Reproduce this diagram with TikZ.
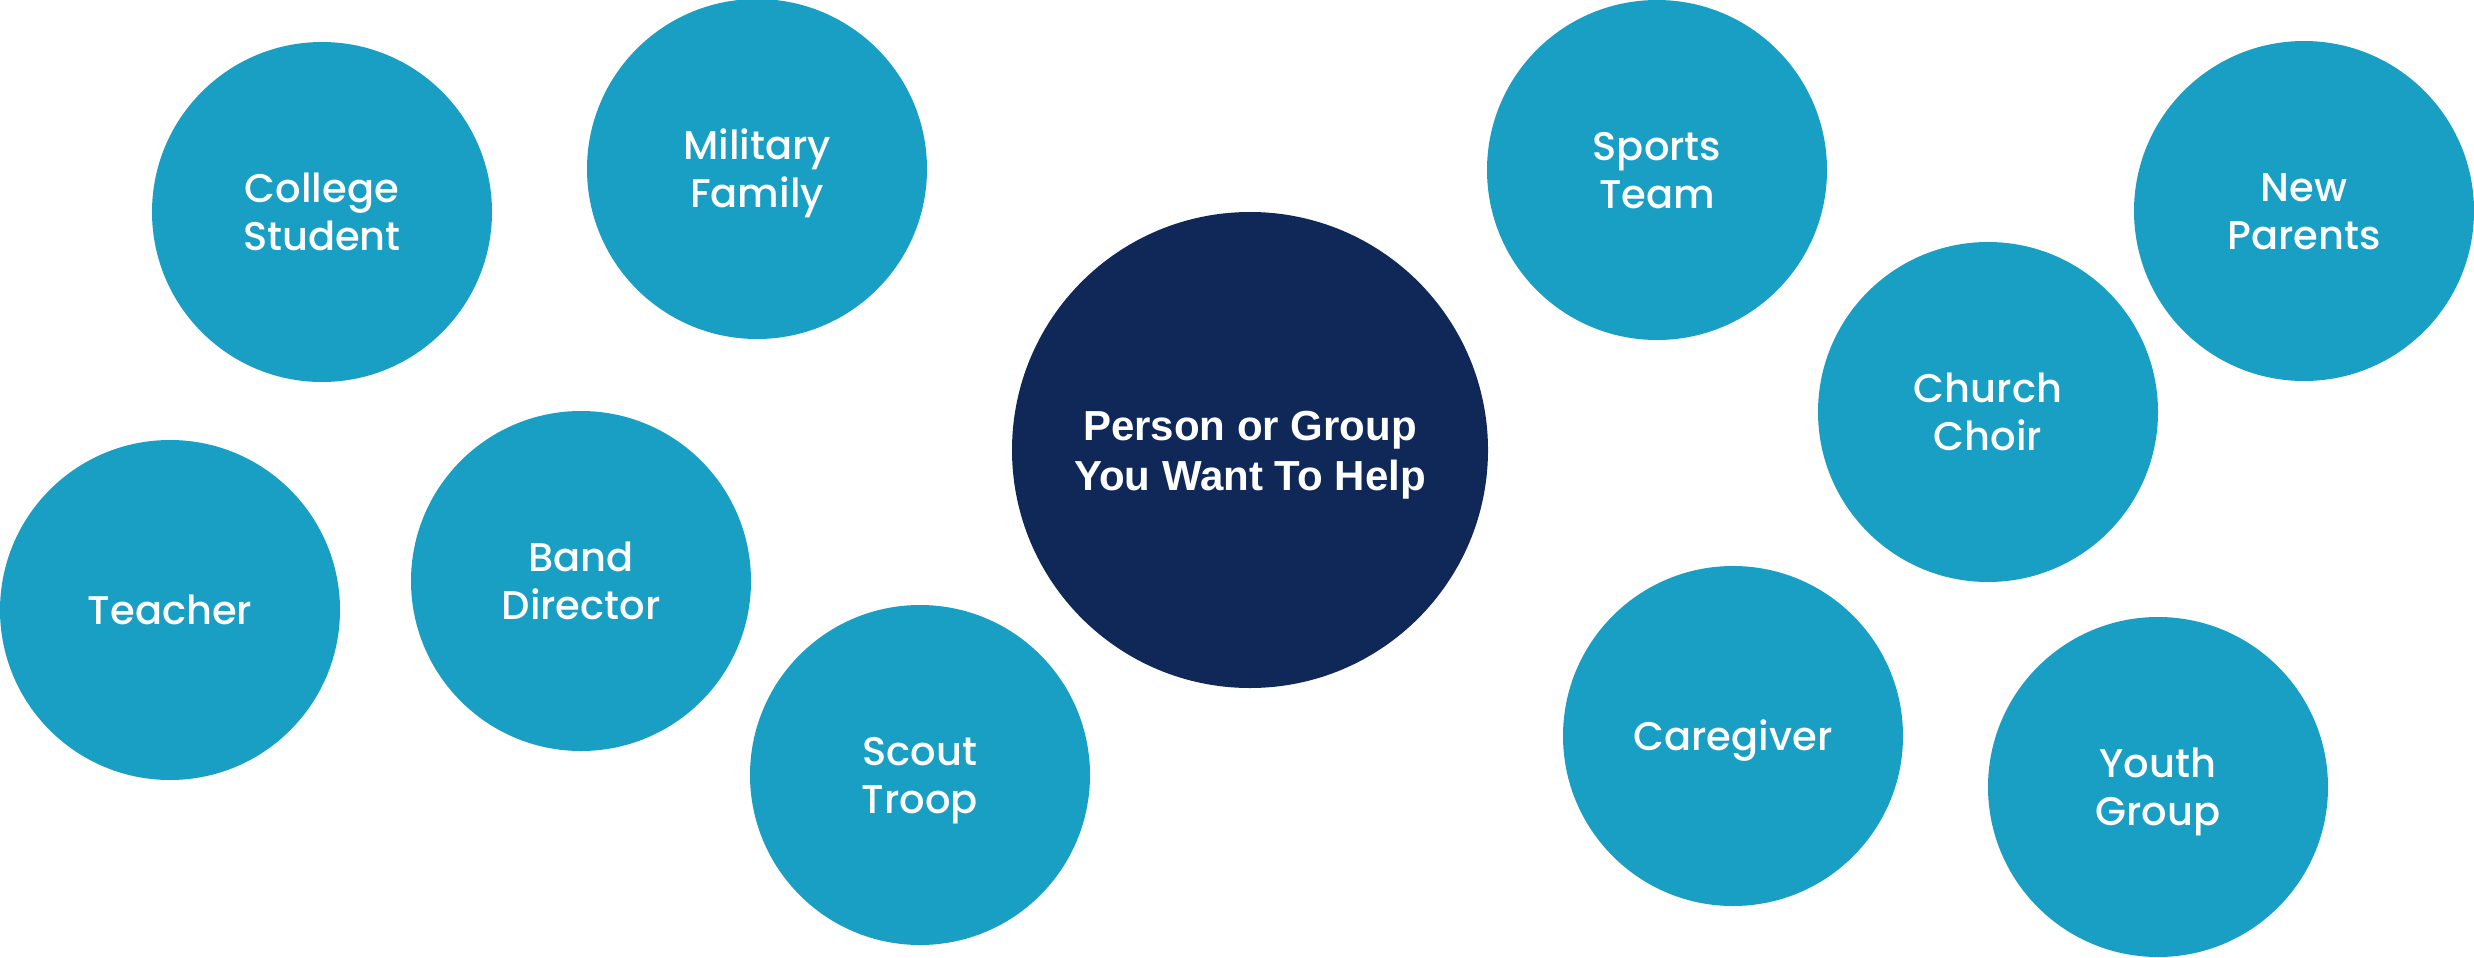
\documentclass[tikz,border=0pt]{standalone}
\usepackage{fontspec}
\setmainfont{Liberation Sans}
\newfontfamily\bubblefont[UprightFont=* Medium,BoldFont=* SemiBold]{Poppins}
\usepackage{tikz}
\usetikzlibrary{positioning}
\definecolor{teal}{HTML}{1A9FC4}
\definecolor{navy}{HTML}{0F2858}

\begin{document}
\begin{tikzpicture}[
  x=0.5pt,y=-0.5pt,
  bubble/.style={circle,fill=teal,inner sep=0pt,minimum size=170pt,
    text=white,align=center,text height=14.5pt,text depth=0pt,
    font=\bubblefont\fontsize{20}{24}\selectfont},
  two/.style={text height=38.5pt},
  hub/.style={circle,fill=navy,inner sep=0pt,minimum size=238pt,
    text=white,align=center,text height=40pt,text depth=0pt,
    font=\bfseries\fontsize{21}{25}\selectfont}]
\useasboundingbox (0,0) rectangle (2474,958);
% centre
\node[hub] (help) at (1250,450) {Person or Group\\You Want To Help};
% left side
\node[bubble,two] (college) at (322,212)  {College\\Student};
\node[bubble,two] (military) at (757,169) {Military\\Family};
\node[bubble] (teacher) at (170,610)      {Teacher};
\node[bubble,two] (band) at (581,581)     {Band\\Director};
\node[bubble,two] (scout) at (920,775)    {Scout\\Troop};
% right side
\node[bubble,two] (sports) at (1657,170)  {Sports\\Team};
\node[bubble,two] (parents) at (2304,211) {New\\Parents};
\node[bubble,two] (choir) at (1988,412)   {Church\\Choir};
\node[bubble] (caregiver) at (1733,736)   {Caregiver};
\node[bubble,two] (youth) at (2158,787)   {Youth\\Group};
\end{tikzpicture}
\end{document}
